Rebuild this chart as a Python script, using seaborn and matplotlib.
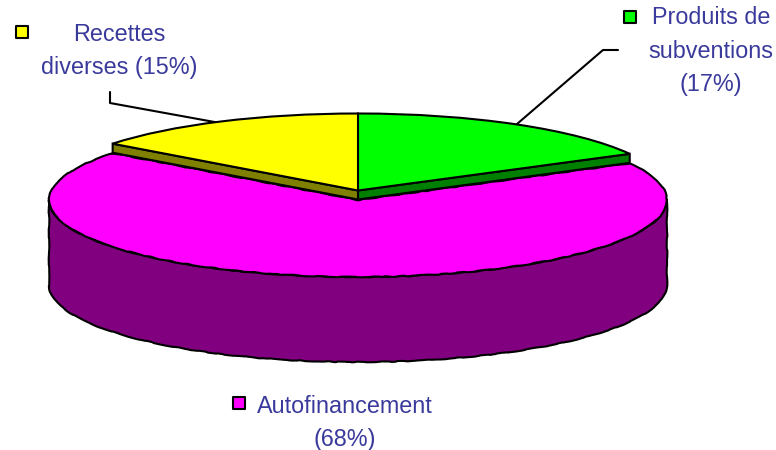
import numpy as np
import matplotlib
matplotlib.use("Agg")
import matplotlib.pyplot as plt
from matplotlib.transforms import Affine2D
import seaborn as sns

# shares, clockwise from 12 o'clock
categories = ["Produits de\nsubventions", "Autofinancement", "Recettes\ndiverses"]
shares = [17.1, 68.3, 14.6]
top_colors = ["#00ff00", "#ff00ff", "#ffff00"]
side_colors = ["#008000", "#800080", "#808000"]

CX, A, B = 358, 309, 77
CY_THIN, CY_MAIN = 190.5, 200
DEPTH_THIN, DEPTH_MAIN = 9, 85
TEXT_COLOR = "#3a3a9c"

sns.set_theme(style="white")
plt.rcParams["font.family"] = ["Liberation Sans", "DejaVu Sans"]

fig = plt.figure(figsize=(7.76, 4.5), dpi=100)
ax = fig.add_axes([0, 0, 1, 1])

wedges, _ = ax.pie(shares, colors=top_colors, startangle=90, counterclock=False,
                   radius=1, wedgeprops=dict(edgecolor="black", linewidth=1.5))

ax.set_aspect("auto")
ax.set_xlim(0, 776)
ax.set_ylim(450, 0)
ax.axis("off")


def rim(t_deg, cy):
    t = np.radians(t_deg)
    return CX + A * np.sin(t), cy - B * np.cos(t)


edges = np.concatenate([[0], np.cumsum(shares)]) * 3.6

# place the pie tops in pixel space, squashed into an ellipse
for i, w in enumerate(wedges):
    cy = CY_MAIN if i == 1 else CY_THIN
    w.set_transform(Affine2D().scale(A, -B).translate(CX, cy) + ax.transData)
    w.set_zorder(3 if i == 1 else 5)
# the original rim is a rough polygon, not a clean curve
wedges[1].set_sketch_params(scale=0.35, length=70, randomness=16)

# thick side of the big slice, front half of the rim only
t = np.linspace(90, 270, 120)
x, y = rim(t, CY_MAIN)
side = ax.fill(np.r_[x, x[::-1]], np.r_[y, y[::-1] + DEPTH_MAIN], color=side_colors[1],
               ec="black", lw=1.5, zorder=2)[0]
side.set_sketch_params(scale=0.35, length=70, randomness=16)

# thin sides showing along the cut faces of the two small slices
for i, corner in [(0, edges[1]), (2, edges[2])]:
    cx, cy = rim(corner, CY_THIN)
    ax.fill([CX, cx, cx, CX], [CY_THIN, cy, cy + DEPTH_THIN, CY_THIN + DEPTH_THIN],
            color=side_colors[i], ec="black", lw=1.5, zorder=4)

# leader lines
ax.plot([110, 110, 220], [92, 103, 123], color="black", lw=1.5, zorder=1)
ax.plot([517, 603, 618], [124, 50, 50], color="black", lw=1.5, zorder=1)

# labels with their colour keys
label_pos = [(711, 51), (345, 423), (119, 51)]
key_pos = [(630, 17), (239, 403), (22, 32)]
for i, name in enumerate(categories):
    pct = f"({shares[i]:.0f}%)"
    sep = " " if i == 2 else "\n"
    ax.text(*label_pos[i], f"{name}{sep}{pct}", color=TEXT_COLOR, fontsize=16.8,
            ha="center", va="center", multialignment="center", linespacing=1.57)
    ax.scatter(*key_pos[i], marker="s", s=70, color=top_colors[i], ec="black", lw=1.5)

fig.savefig("out.png", dpi=100)
